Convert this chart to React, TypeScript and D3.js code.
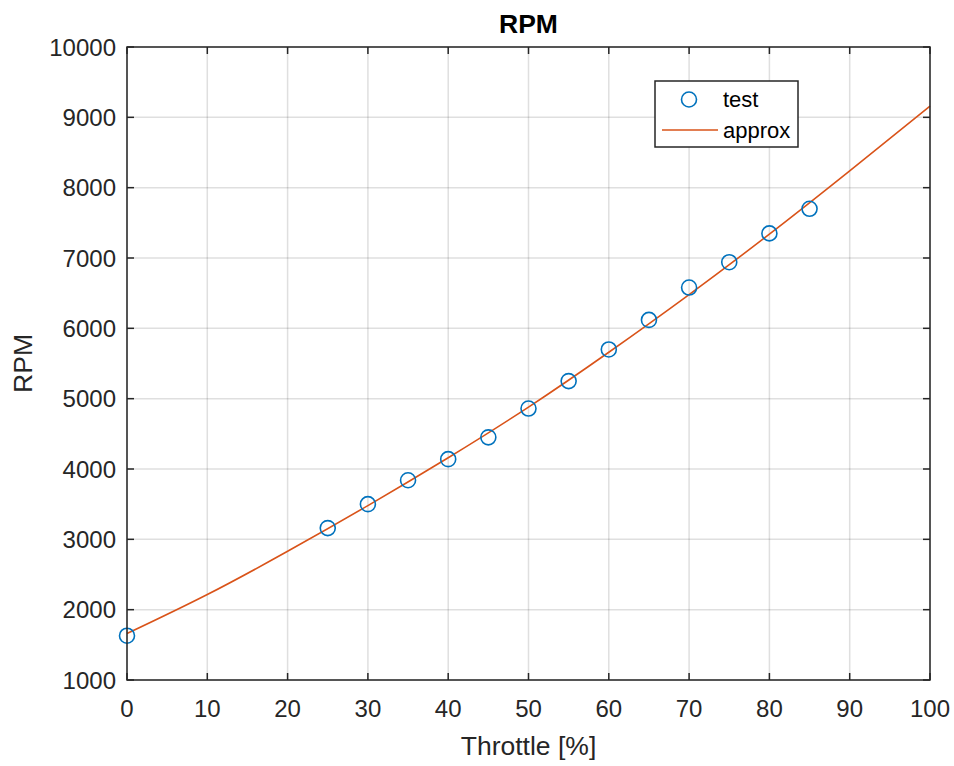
import React, { useEffect, useRef } from "react";
import * as d3 from "d3";

// measured throttle test points
const testThrottle = [0, 25, 30, 35, 40, 45, 50, 55, 60, 65, 70, 75, 80, 85];
const testRpm = [1630, 3160, 3500, 3840, 4140, 4450, 4860, 5250, 5700, 6120, 6580, 6940, 7350, 7700];

// approximation curve, read every 10 %
const approxThrottle = [0, 10, 20, 30, 40, 50, 60, 70, 80, 90, 100];
const approxRpm = [1660, 2215, 2830, 3480, 4160, 4880, 5660, 6480, 7340, 8240, 9160];

const xTicks = [0, 10, 20, 30, 40, 50, 60, 70, 80, 90, 100];
const yTicks = [1000, 2000, 3000, 4000, 5000, 6000, 7000, 8000, 9000, 10000];

const legendLabels = ["test", "approx"];

const BLUE = "#0072BD";
const ORANGE = "#D95319";
const AXIS = "#262626";
const FONT = "'Liberation Sans', Arial, Helvetica, sans-serif";

export default function App() {
  const ref = useRef<SVGSVGElement>(null);

  useEffect(() => {
    const svg = d3.select(ref.current);
    svg.selectAll("*").remove();

    const margin = { top: 47, right: 24, bottom: 86, left: 127 };
    const W = 954, H = 766;
    const w = W - margin.left - margin.right;
    const h = H - margin.top - margin.bottom;

    const x = d3.scaleLinear().domain([0, 100]).range([0, w]);
    const y = d3.scaleLinear().domain([1000, 10000]).range([h, 0]);

    const g = svg.append("g").attr("transform", `translate(${margin.left},${margin.top})`);

    // grid
    g.selectAll(".vgrid")
      .data(xTicks)
      .join("line")
      .attr("x1", (d) => x(d))
      .attr("x2", (d) => x(d))
      .attr("y1", 0)
      .attr("y2", h)
      .attr("stroke", AXIS)
      .attr("stroke-opacity", 0.15)
      .attr("stroke-width", 1.5);
    g.selectAll(".hgrid")
      .data(yTicks)
      .join("line")
      .attr("x1", 0)
      .attr("x2", w)
      .attr("y1", (d) => y(d))
      .attr("y2", (d) => y(d))
      .attr("stroke", AXIS)
      .attr("stroke-opacity", 0.15)
      .attr("stroke-width", 1.5);

    // approx line
    const line = d3
      .line<number>()
      .x((d, i) => x(approxThrottle[i]))
      .y((d) => y(d))
      .curve(d3.curveNatural);
    g.append("path")
      .datum(approxRpm)
      .attr("d", line)
      .attr("fill", "none")
      .attr("stroke", ORANGE)
      .attr("stroke-width", 1.6);

    // test markers
    g.selectAll(".pt")
      .data(testRpm)
      .join("circle")
      .attr("cx", (d, i) => x(testThrottle[i]))
      .attr("cy", (d) => y(d))
      .attr("r", 7.5)
      .attr("fill", "none")
      .attr("stroke", BLUE)
      .attr("stroke-width", 1.6);

    // box + inward ticks on all sides
    const tickLen = 7;
    const ax = g.append("g").attr("stroke", AXIS).attr("stroke-width", 1.5);
    ax.append("rect").attr("width", w).attr("height", h).attr("fill", "none");
    xTicks.forEach((t) => {
      ax.append("line").attr("x1", x(t)).attr("x2", x(t)).attr("y1", h).attr("y2", h - tickLen);
      ax.append("line").attr("x1", x(t)).attr("x2", x(t)).attr("y1", 0).attr("y2", tickLen);
    });
    yTicks.forEach((t) => {
      ax.append("line").attr("x1", 0).attr("x2", tickLen).attr("y1", y(t)).attr("y2", y(t));
      ax.append("line").attr("x1", w).attr("x2", w - tickLen).attr("y1", y(t)).attr("y2", y(t));
    });

    // tick labels
    g.selectAll(".xl")
      .data(xTicks)
      .join("text")
      .attr("x", (d) => x(d))
      .attr("y", h + 37)
      .attr("text-anchor", "middle")
      .attr("font-family", FONT)
      .attr("font-size", 24)
      .attr("fill", AXIS)
      .text((d) => d);
    g.selectAll(".yl")
      .data(yTicks)
      .join("text")
      .attr("x", -11)
      .attr("y", (d) => y(d) + 8.5)
      .attr("text-anchor", "end")
      .attr("font-family", FONT)
      .attr("font-size", 24)
      .attr("fill", AXIS)
      .text((d) => d);

    // axis labels + title
    g.append("text")
      .attr("x", w / 2)
      .attr("y", h + 75)
      .attr("text-anchor", "middle")
      .attr("font-family", FONT)
      .attr("font-size", 26.5)
      .attr("fill", AXIS)
      .text("Throttle [%]");
    g.append("text")
      .attr("transform", `translate(${-95},${h / 2}) rotate(-90)`)
      .attr("text-anchor", "middle")
      .attr("font-family", FONT)
      .attr("font-size", 26.5)
      .attr("fill", AXIS)
      .text("RPM");
    g.append("text")
      .attr("x", w / 2)
      .attr("y", -14)
      .attr("text-anchor", "middle")
      .attr("font-family", FONT)
      .attr("font-size", 26.5)
      .attr("font-weight", "bold")
      .attr("fill", "#000")
      .text("RPM");

    // legend
    const lg = svg.append("g").attr("transform", "translate(655,81)");
    lg.append("rect")
      .attr("width", 143)
      .attr("height", 66)
      .attr("fill", "#fff")
      .attr("stroke", AXIS)
      .attr("stroke-width", 1.5);
    lg.append("circle")
      .attr("cx", 34)
      .attr("cy", 18.5)
      .attr("r", 7.5)
      .attr("fill", "none")
      .attr("stroke", BLUE)
      .attr("stroke-width", 1.6);
    lg.append("line")
      .attr("x1", 7)
      .attr("x2", 63)
      .attr("y1", 49)
      .attr("y2", 49)
      .attr("stroke", ORANGE)
      .attr("stroke-width", 1.6);
    lg.selectAll(".lt")
      .data(legendLabels)
      .join("text")
      .attr("x", 68)
      .attr("y", (d, i) => 26 + i * 31)
      .attr("font-family", FONT)
      .attr("font-size", 22)
      .attr("fill", "#000")
      .text((d) => d);
  }, []);

  return (
    <svg
      ref={ref}
      width={954}
      height={766}
      style={{ position: "absolute", left: 0, top: 0, background: "#fff" }}
    />
  );
}
